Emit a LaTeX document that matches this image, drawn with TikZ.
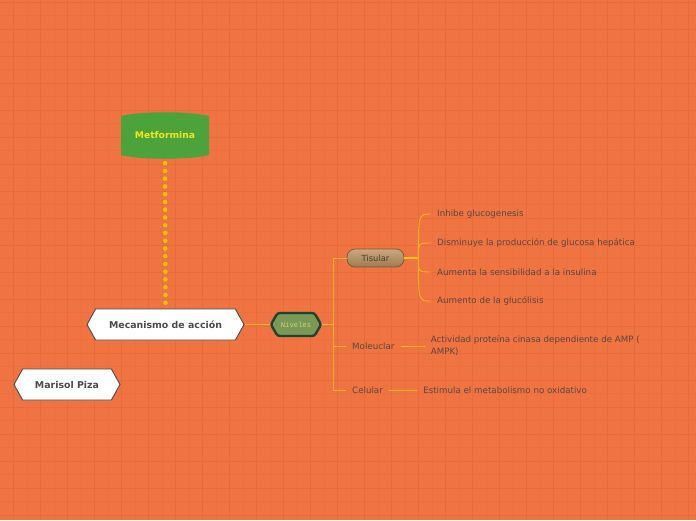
\documentclass[tikz,border=0pt]{standalone}
\usepackage{fontspec}
\setmainfont{DejaVu Sans}
\setmonofont{Liberation Mono}
\usepackage{xcolor}
\usetikzlibrary{shapes.symbols, positioning, calc}

\definecolor{bgorange}{HTML}{F07442}
\definecolor{gridminor}{HTML}{EC6F3F}
\definecolor{gridmajor}{HTML}{E86B3C}
\definecolor{metgreen}{HTML}{4CA33B}
\definecolor{mettext}{HTML}{F5E61A}
\definecolor{hexborder}{HTML}{4A4A4A}
\definecolor{hextext}{HTML}{4A4A4A}
\definecolor{levelborder}{HTML}{1C4530}
\definecolor{levelfill}{HTML}{7A9858}
\definecolor{leveltext}{HTML}{D6D46A}
\definecolor{tissuetop}{HTML}{CBA97E}
\definecolor{tissuebottom}{HTML}{9D7B52}
\definecolor{tissueborder}{HTML}{7A5A3A}
\definecolor{tissuetext}{HTML}{4B3B2B}
\definecolor{leaftext}{HTML}{5A4640}
\definecolor{linkyellow}{HTML}{F7B51E}
\definecolor{linkbright}{HTML}{FFC20E}
\definecolor{dotyellow}{HTML}{FFC800}

\begin{document}
\begin{tikzpicture}[
    x=1pt, y=-1pt,
    minorgrid/.style={draw=gridminor, line width=0.5pt},
    majorgrid/.style={draw=gridmajor, line width=0.7pt},
    metbox/.style={text=mettext, font=\fontsize{9.2}{11}\selectfont\bfseries, minimum width=88pt, minimum height=46pt},
    hexbox/.style={shape=signal, signal to=west and east, signal pointer angle=122, draw=hexborder, line width=0.9pt, fill=white, text=hextext, font=\fontsize{9.4}{11}\selectfont\bfseries, minimum height=31pt},
    levelbox/.style={shape=signal, signal to=west and east, signal pointer angle=120, rounded corners=2.5pt, draw=levelborder, line width=2.4pt, fill=levelfill, text=leveltext, font=\fontsize{7.2}{8}\ttfamily, minimum width=44pt, minimum height=23pt},
    tissuebox/.style={rounded corners=8pt, draw=tissueborder, line width=0.8pt, top color=tissuetop, bottom color=tissuebottom, text=tissuetext, font=\fontsize{8.4}{10}\selectfont, minimum width=57pt, minimum height=18pt, inner sep=0pt},
    leaf/.style={text=leaftext, font=\fontsize{8.7}{12}\selectfont, inner xsep=6pt, inner ysep=2pt, align=left},
    link/.style={draw=linkyellow, line width=0.9pt},
    thicklink/.style={draw=linkbright, line width=2pt},
    dotlink/.style={draw=dotyellow, line width=4.5pt, line cap=round, dash pattern=on 0pt off 7.75pt}
]
    \useasboundingbox (0,0) rectangle (696,520);

    % Background grid
    \fill[bgorange] (0,0) rectangle (696,520);
    \foreach \gx in {13.5,27,...,695} \draw[minorgrid] (\gx,0) -- (\gx,520);
    \foreach \gy in {2,15.5,...,519} \draw[minorgrid] (0,\gy) -- (696,\gy);
    \foreach \gx in {13.5,40.5,...,695} \draw[majorgrid] (\gx,0) -- (\gx,520);
    \foreach \gy in {2,29,...,519} \draw[majorgrid] (0,\gy) -- (696,\gy);

    % Central topic
    \fill[metgreen] (121,116) .. controls (140,111) and (190,111) .. (209,116) -- (209,155)
        .. controls (190,160) and (140,160) .. (121,155) -- cycle;
    \node[metbox] (met) at (165,135) {Metformina};

    % Main branches
    \node[hexbox, minimum width=157pt] (mec) at (165.5,324.5) {Mecanismo de acción};
    \node[hexbox, minimum width=106pt] (pers) at (67,384.5) {Marisol Piza};
    \node[levelbox] (niv) at (296,324.5) {Niveles};

    % Levels
    \coordinate (spine) at (333,324.5);
    \coordinate (spinetop) at (333,258);
    \coordinate (spinebot) at (333,390);
    \node[tissuebox] (tis) at (375.5,258) {Tisular};
    \node[leaf, anchor=west] (mol) at (346,346) {Moleuclar};
    \node[leaf, anchor=west] (cel) at (346,390) {Celular};
    \node[leaf, right=24pt of mol] (ampk) {Actividad proteína cinasa dependiente de AMP (\\AMPK)};
    \node[leaf, right=28pt of cel] (oxid) {Estimula el metabolismo no oxidativo};

    % Tissue effects
    \coordinate[right=14pt of tis] (fork);
    \node[leaf, anchor=west] (gluc) at (431,214) {Inhibe glucogenesis};
    \node[leaf, anchor=west] (hepa) at (431,243) {Disminuye la producción de glucosa hepática};
    \node[leaf, anchor=west] (insu) at (431,272) {Aumenta la sensibilidad a la insulina};
    \node[leaf, anchor=west] (glyc) at (431,301) {Aumento de la glucólisis};

    % Connections
    \draw[dotlink] ([yshift=-5pt]met.south) -- ([yshift=5pt]mec.north);
    \draw[link] (mec.east) -- (niv.west);
    \draw[link] (niv.east) -- (spine);
    \draw[link] (spinetop) -- (spinebot);
    \draw[link] (spinetop) -- (tis.west);
    \draw[link] (spinetop |- mol.west) -- (mol.west);
    \draw[link] (spinetop |- cel.west) -- (cel.west);
    \draw[link] (mol.east) -- (ampk.west);
    \draw[link] (cel.east) -- (oxid.west);
    \draw[thicklink] (tis.east) -- (fork);
    \foreach \leafname in {gluc,hepa,insu,glyc}
        \draw[link] (fork) .. controls (fork |- \leafname.west) .. (\leafname.west);
\end{tikzpicture}
\end{document}
